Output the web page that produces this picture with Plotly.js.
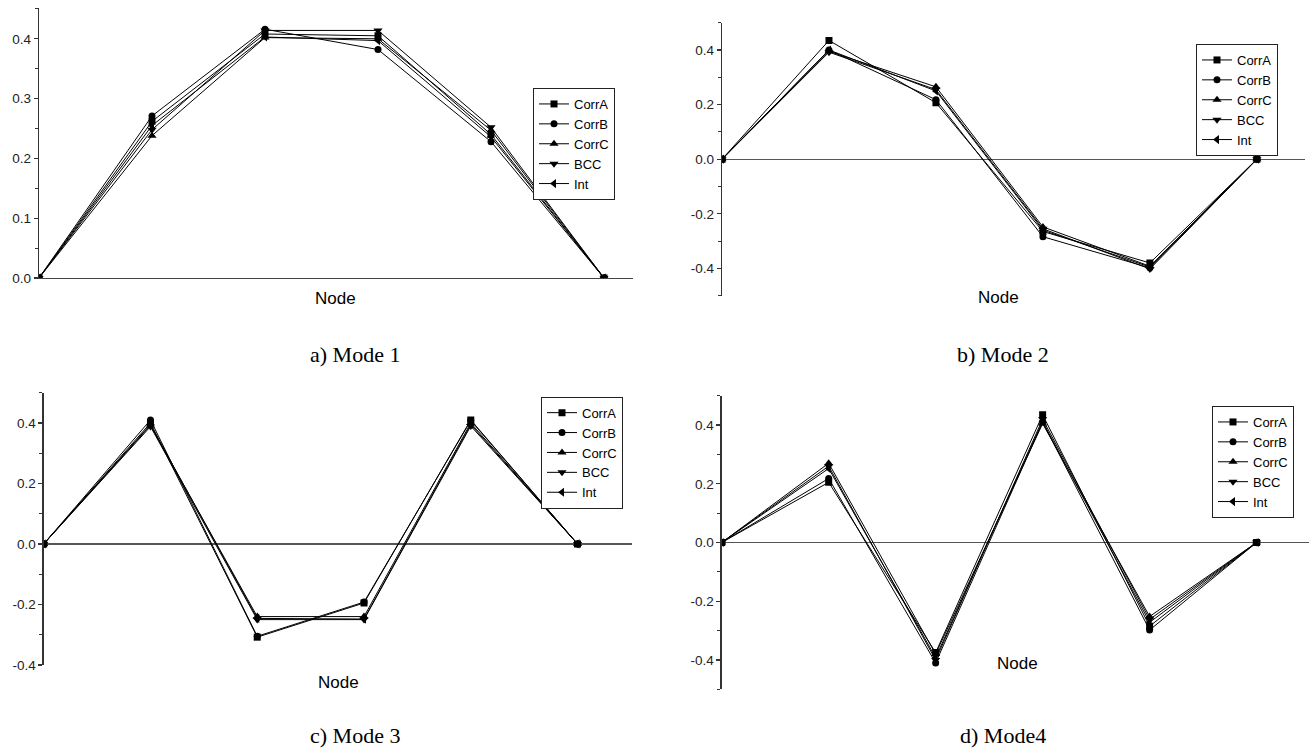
<!DOCTYPE html>
<html>
<head>
<meta charset="utf-8">
<script src="https://cdn.plot.ly/plotly-3.0.1.min.js"></script>
<style>html,body{margin:0;padding:0;background:#fff;}#chart{width:1309px;height:749px;}</style>
</head>
<body>
<div id="chart"></div>
<script>
// ---- data ----
var nodes = [0, 1, 2, 3, 4, 5];
var seriesNames = ["CorrA", "CorrB", "CorrC", "BCC", "Int"];
var seriesSymbols = ["square", "circle", "triangle-up", "triangle-down", "triangle-left"];

// Mode 1
var mode1_CorrA = [0, 0.262, 0.408, 0.405, 0.240, 0];
var mode1_CorrB = [0, 0.271, 0.416, 0.382, 0.228, 0];
var mode1_CorrC = [0, 0.238, 0.402, 0.400, 0.247, 0];
var mode1_BCC   = [0, 0.248, 0.414, 0.414, 0.252, 0];
var mode1_Int   = [0, 0.255, 0.403, 0.397, 0.236, 0];

// Mode 2
var mode2_CorrA = [0, 0.435, 0.207, -0.265, -0.380, 0];
var mode2_CorrB = [0, 0.400, 0.218, -0.284, -0.398, 0];
var mode2_CorrC = [0, 0.395, 0.265, -0.248, -0.392, 0];
var mode2_BCC   = [0, 0.392, 0.255, -0.255, -0.402, 0];
var mode2_Int   = [0, 0.400, 0.250, -0.260, -0.395, 0];

// Mode 3
var mode3_CorrA = [0, 0.400, -0.308, -0.195, 0.410, 0];
var mode3_CorrB = [0, 0.410, -0.305, -0.192, 0.408, 0];
var mode3_CorrC = [0, 0.392, -0.240, -0.240, 0.400, 0];
var mode3_BCC   = [0, 0.388, -0.250, -0.250, 0.390, 0];
var mode3_Int   = [0, 0.395, -0.246, -0.248, 0.395, 0];

// Mode 4
var mode4_CorrA = [0, 0.205, -0.375, 0.435, -0.285, 0];
var mode4_CorrB = [0, 0.218, -0.410, 0.410, -0.298, 0];
var mode4_CorrC = [0, 0.270, -0.380, 0.405, -0.252, 0];
var mode4_BCC   = [0, 0.260, -0.400, 0.420, -0.262, 0];
var mode4_Int   = [0, 0.252, -0.392, 0.412, -0.272, 0];

var tickVals1 = [0, 0.1, 0.2, 0.3, 0.4];
var tickText1 = ["0.0", "0.1", "0.2", "0.3", "0.4"];
var tickVals2 = [-0.4, -0.2, 0, 0.2, 0.4];
var tickText2 = ["-0.4", "-0.2", "0.0", "0.2", "0.4"];

var xTitle = "Node";
var captions = ["a) Mode 1", "b) Mode 2", "c) Mode 3", "d) Mode4"];

// ---- build ----
var panels = [
  {series: [mode1_CorrA, mode1_CorrB, mode1_CorrC, mode1_BCC, mode1_Int]},
  {series: [mode2_CorrA, mode2_CorrB, mode2_CorrC, mode2_BCC, mode2_Int]},
  {series: [mode3_CorrA, mode3_CorrB, mode3_CorrC, mode3_BCC, mode3_Int]},
  {series: [mode4_CorrA, mode4_CorrB, mode4_CorrC, mode4_BCC, mode4_Int]}
];

var traces = [];
panels.forEach(function (p, pi) {
  var sfx = pi === 0 ? "" : String(pi + 1);
  p.series.forEach(function (vals, si) {
    var sym = seriesSymbols[si];
    traces.push({
      type: "scatter",
      mode: "lines+markers",
      x: nodes,
      y: vals,
      name: seriesNames[si],
      xaxis: "x" + sfx,
      yaxis: "y" + sfx,
      legend: "legend" + sfx,
      line: {color: "#000", width: 1},
      marker: {symbol: sym, color: "#000", size: sym.indexOf("triangle") === 0 ? 8 : 7, line: {width: 0}},
      showlegend: true
    });
  });
});

var W = 1309, H = 749;
function px(x) { return x / W; }
function py(y) { return (H - y) / H; }

var FONT = "Liberation Sans, Arial, sans-serif";

function xax(d0, d1, r1, showLine, anchor) {
  return {
    domain: [px(d0), px(d1)], range: [0, r1], anchor: anchor,
    showgrid: false, zeroline: false, showticklabels: false, ticks: "",
    showline: showLine, linecolor: "#444", linewidth: 1.3, fixedrange: true
  };
}
function yax(top, bot, range, tv, tt, minorD, zl, anchor) {
  return {
    domain: [py(bot), py(top)], range: range, anchor: anchor,
    showgrid: false, zeroline: zl, zerolinecolor: "#555", zerolinewidth: 1.3,
    showline: true, linecolor: "#333", linewidth: 1.3,
    ticks: "outside", ticklen: 4, tickwidth: 1.2, tickcolor: "#333",
    tickmode: "array", tickvals: tv, ticktext: tt,
    tickfont: {family: FONT, size: 13.5, color: "#222"},
    minor: {ticks: "outside", ticklen: 3, tickwidth: 1, tickcolor: "#333", dtick: minorD, tick0: 0, showgrid: false},
    fixedrange: true
  };
}

function legendAt(x, y) {
  return {
    x: px(x), y: py(y), xanchor: "left", yanchor: "top",
    bgcolor: "#fff", bordercolor: "#222", borderwidth: 1,
    font: {family: FONT, size: 13, color: "#000"},
    itemwidth: 30, tracegroupgap: 0
  };
}

var annFont = {family: FONT, size: 17, color: "#000"};
var capFont = {family: "Liberation Serif, Times New Roman, serif", size: 22, color: "#000"};
function ann(text, x, y, font) {
  return {text: text, x: px(x), y: py(y), xref: "paper", yref: "paper",
          xanchor: "center", yanchor: "middle", showarrow: false, font: font};
}

var layout = {
  width: W, height: H,
  margin: {l: 0, r: 0, t: 0, b: 0},
  paper_bgcolor: "#fff", plot_bgcolor: "rgba(0,0,0,0)",
  showlegend: true,
  xaxis:  xax(39, 632.7, 5.254, true, "y"),
  yaxis:  yax(8, 278, [0, 0.4515], tickVals1, tickText1, 0.05, false, "x"),
  xaxis2: xax(722, 1305, 5.45, false, "y2"),
  yaxis2: yax(22.7, 295.7, [-0.5, 0.5], tickVals2, tickText2, 0.1, true, "x2"),
  xaxis3: xax(43.7, 632, 5.51, false, "y3"),
  yaxis3: yax(392.7, 665, [-0.4, 0.5], tickVals2, tickText2, 0.1, true, "x3"),
  xaxis4: xax(721.7, 1309, 5.49, false, "y4"),
  yaxis4: yax(395.7, 689.3, [-0.5, 0.5], tickVals2, tickText2, 0.1, true, "x4"),
  legend:  legendAt(533, 88),
  legend2: legendAt(1196, 44),
  legend3: legendAt(541, 396.7),
  legend4: legendAt(1212, 406),
  annotations: [
    ann(xTitle, 335, 298, annFont),
    ann(xTitle, 998, 297, annFont),
    ann(xTitle, 338, 682, annFont),
    ann(xTitle, 1017, 663, annFont),
    ann(captions[0], 355, 354, capFont),
    ann(captions[1], 1003, 354, capFont),
    ann(captions[2], 355, 735, capFont),
    ann(captions[3], 1003, 735, capFont)
  ]
};

Plotly.newPlot("chart", traces, layout, {staticPlot: true, displayModeBar: false});
</script>
</body>
</html>
